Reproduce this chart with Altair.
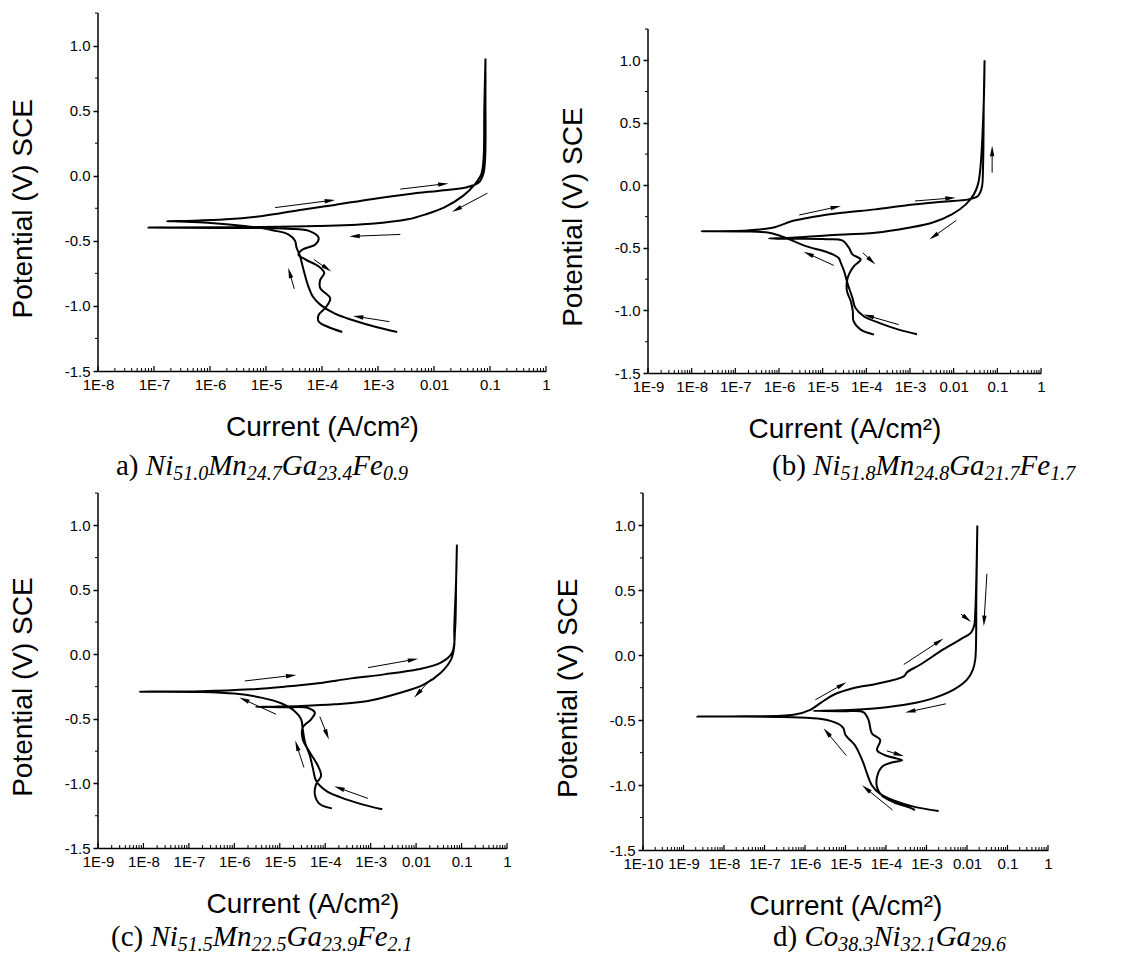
import math
import altair as alt
import pandas as pd

SANS = "Liberation Sans"
SERIF = "Liberation Serif"

Y_DOMAIN = [-1.5, 1.25]
Y_TICKS = [-1.5, -1.0, -0.5, 0.0, 0.5, 1.0]
Y_MINOR = [-1.25, -0.75, -0.25, 0.25, 0.75, 1.25]
X_TITLE = "Current (A/cm²)"
Y_TITLE = "Potential (V) SCE"

# ---------------- panel a : Ni51.0Mn24.7Ga23.4Fe0.9 ----------------
A_FWD_I = [2.2e-3, 8.9e-4, 3.6e-4, 1.7e-4, 9.3e-5, 6.9e-5, 5.6e-5, 4.6e-5, 4.0e-5, 3.5e-5,
           3.3e-5, 2.5e-5, 1.35e-5, 4.1e-6, 9.1e-7, 2.8e-7, 1.7e-7, 5.0e-7, 1.95e-6, 8.7e-6,
           3.8e-5, 1.7e-4, 7.6e-4, 3.4e-3, 1.5e-2, 3.7e-2, 6.3e-2, 7.6e-2, 8.2e-2, 8.3e-2, 8.3e-2]
A_FWD_E = [-1.20, -1.16, -1.11, -1.06, -0.99, -0.93, -0.84, -0.71, -0.61, -0.55,
           -0.50, -0.45, -0.42, -0.387, -0.361, -0.352, -0.349, -0.346, -0.335, -0.309,
           -0.265, -0.224, -0.18, -0.142, -0.111, -0.09, -0.052, 0.013, 0.142, 0.58, 0.90]
A_REV_I = [8.3e-2, 7.9e-2, 7.7e-2, 7.0e-2, 5.4e-2, 3.3e-2, 1.5e-2, 7.2e-3, 3.4e-3, 7.6e-4,
           8.1e-5, 4.1e-6, 2.0e-7, 7.9e-8, 2.8e-7, 4.1e-6, 2.5e-5, 6.0e-5, 8.7e-5, 7.6e-5,
           4.5e-5, 3.8e-5, 5.1e-5, 8.7e-5, 1.1e-4, 9.3e-5, 9.3e-5, 1.4e-4, 1.2e-4, 8.7e-5,
           8.7e-5, 1.26e-4, 2.3e-4]
A_REV_E = [0.90, 0.50, 0.14, 0.013, -0.064, -0.155, -0.245, -0.296, -0.335, -0.369,
           -0.387, -0.394, -0.397, -0.398, -0.40, -0.402, -0.407, -0.425, -0.477, -0.528,
           -0.567, -0.606, -0.644, -0.696, -0.747, -0.80, -0.863, -0.941, -1.005, -1.07,
           -1.12, -1.16, -1.20]
A_ARR_I0 = [1.45e-5, 2.5e-3, 9.0e-2, 2.5e-3, 1.6e-3, 3.2e-5, 7.2e-5]
A_ARR_E0 = [-0.245, -0.103, -0.134, -0.451, -1.121, -0.869, -0.644]
A_ARR_I1 = [1.7e-4, 1.8e-2, 2.1e-2, 3.1e-4, 3.6e-4, 2.5e-5, 1.45e-4]
A_ARR_E1 = [-0.186, -0.059, -0.278, -0.466, -1.077, -0.709, -0.735]

# ---------------- panel b : Ni51.8Mn24.8Ga21.7Fe1.7 ----------------
B_FWD_I = [1.45e-3, 5.5e-4, 1.95e-4, 8.7e-5, 5.6e-5, 4.8e-5, 4.0e-5, 3.5e-5, 3.1e-5, 2.6e-5,
           2.3e-5, 1.2e-5, 4.1e-6, 1.4e-6, 5.9e-7, 1.45e-7, 1.7e-8, 1.45e-7, 7.1e-7, 2.0e-6,
           5.8e-6, 2.8e-5, 1.6e-4, 9.3e-4, 5.5e-3, 2.2e-2, 3.6e-2, 4.4e-2, 4.7e-2, 4.9e-2, 5.1e-2]
B_FWD_E = [-1.19, -1.153, -1.099, -1.046, -0.979, -0.899, -0.819, -0.752, -0.686, -0.619,
           -0.579, -0.531, -0.486, -0.419, -0.379, -0.368, -0.366, -0.363, -0.339, -0.285,
           -0.253, -0.219, -0.192, -0.157, -0.131, -0.112, -0.085, -0.019, 0.141, 0.675, 1.0]
B_REV_I = [5.1e-2, 4.9e-2, 4.1e-2, 3.6e-2, 2.9e-2, 1.9e-2, 9.1e-3, 3.2e-3, 9.3e-4, 1.6e-4,
           1.2e-5, 2.0e-6, 5.9e-7, 2.0e-6, 1.2e-5, 2.8e-5, 4.0e-5, 4.8e-5, 7.4e-5, 5.2e-5,
           4.0e-5, 3.6e-5, 3.6e-5, 4.4e-5, 4.9e-5, 5.1e-5, 7.4e-5, 1.5e-4]
B_REV_E = [1.0, 0.675, 0.141, 0.008, -0.072, -0.152, -0.232, -0.299, -0.339, -0.379,
           -0.40, -0.419, -0.424, -0.427, -0.43, -0.44, -0.499, -0.552, -0.592, -0.646,
           -0.712, -0.766, -0.846, -0.926, -1.006, -1.086, -1.153, -1.193]
B_ARR_I0 = [2.9e-6, 1.3e-3, 7.6e-2, 1.15e-2, 1.8e-5, 8.3e-5, 5.5e-4]
B_ARR_E0 = [-0.237, -0.125, 0.101, -0.28, -0.64, -0.539, -1.113]
B_ARR_I1 = [2.6e-5, 1.1e-2, 7.6e-2, 2.8e-3, 3.7e-6, 1.6e-4, 8.7e-5]
B_ARR_E1 = [-0.165, -0.099, 0.315, -0.432, -0.531, -0.632, -1.033]

# ---------------- panel c : Ni51.5Mn22.5Ga23.9Fe2.1 ----------------
C_FWD_I = [1.8e-3, 6.2e-4, 2.2e-4, 1.05e-4, 6.3e-5, 5.4e-5, 4.6e-5, 3.6e-5, 3.2e-5, 2.95e-5,
           2.1e-5, 1.07e-5, 3.9e-6, 1.0e-6, 1.9e-7, 8.3e-9, 1.9e-7, 2.3e-6, 1.3e-5, 6.9e-5,
           3.7e-4, 2.0e-3, 1.1e-2, 3.5e-2, 6.2e-2, 7.2e-2, 7.6e-2, 7.9e-2]
C_FWD_E = [-1.20, -1.16, -1.108, -1.057, -0.979, -0.889, -0.786, -0.683, -0.58, -0.503,
           -0.438, -0.379, -0.335, -0.304, -0.291, -0.289, -0.286, -0.271, -0.25, -0.224,
           -0.186, -0.155, -0.116, -0.064, 0.013, 0.193, 0.58, 0.85]
C_REV_I = [7.9e-2, 7.6e-2, 6.9e-2, 6.9e-2, 5.9e-2, 3.5e-2, 1.5e-2, 4.7e-3, 8.7e-4, 1.6e-4,
           2.95e-5, 7.8e-6, 3.0e-6, 1.3e-5, 4.2e-5, 5.9e-5, 4.9e-5, 3.2e-5, 3.2e-5, 4.6e-5,
           6.9e-5, 8.1e-5, 6.3e-5, 5.9e-5, 7.6e-5, 1.4e-4]
C_REV_E = [0.85, 0.58, 0.193, 0.064, -0.039, -0.142, -0.232, -0.296, -0.361, -0.387,
           -0.40, -0.405, -0.407, -0.41, -0.415, -0.451, -0.503, -0.567, -0.657, -0.76,
           -0.863, -0.941, -1.005, -1.082, -1.16, -1.193]
C_ARR_I0 = [1.7e-6, 8.7e-4, 2.1e-2, 8.3e-6, 7.6e-5, 3.4e-5, 8.7e-4]
C_ARR_E0 = [-0.206, -0.103, -0.193, -0.464, -0.482, -0.876, -1.116]
C_ARR_I1 = [2.3e-5, 1.1e-2, 9.1e-3, 1.3e-6, 1.2e-4, 2.2e-5, 1.6e-4]
C_ARR_E1 = [-0.16, -0.034, -0.335, -0.335, -0.657, -0.67, -1.023]

# ---------------- panel d : Co38.3Ni32.1Ga29.6 ----------------
D_FWD_I = [2.0e-3, 4.8e-4, 1.55e-4, 7.2e-5, 4.5e-5, 3.4e-5, 2.8e-5, 2.1e-5, 1.7e-5, 1.3e-5,
           1.0e-5, 8.9e-6, 7.4e-6, 3.5e-6, 1.35e-6, 2.0e-7, 3.1e-8, 2.2e-9, 3.1e-8, 5.2e-7,
           1.35e-6, 2.4e-6, 5.1e-6, 1.6e-5, 6.0e-5, 2.75e-4, 3.3e-4, 7.1e-4, 2.6e-3, 6.9e-3,
           1.26e-2, 1.5e-2, 1.6e-2, 1.7e-2, 1.8e-2]
D_FWD_E = [-1.20, -1.166, -1.119, -1.068, -1.003, -0.912, -0.835, -0.744, -0.692, -0.653,
           -0.615, -0.563, -0.537, -0.498, -0.483, -0.475, -0.472, -0.472, -0.470, -0.459,
           -0.42, -0.369, -0.304, -0.252, -0.219, -0.162, -0.131, -0.071, 0.045, 0.123,
           0.175, 0.227, 0.33, 0.589, 1.0]
D_REV_I = [1.8e-2, 1.7e-2, 1.6e-2, 1.4e-2, 1.0e-2, 4.7e-3, 1.5e-3, 4.0e-4, 6.0e-5, 8.9e-6,
           1.6e-6, 8.9e-6, 2.8e-5, 3.7e-5, 4.5e-5, 7.2e-5, 6.0e-5, 9.5e-5, 2.5e-4, 1.55e-4,
           7.9e-5, 6.0e-5, 6.0e-5, 7.9e-5, 1.55e-4, 4.0e-4, 5.2e-4]
D_REV_E = [1.0, 0.459, -0.032, -0.11, -0.188, -0.265, -0.33, -0.374, -0.408, -0.423,
           -0.428, -0.431, -0.439, -0.498, -0.602, -0.653, -0.731, -0.77, -0.809, -0.822,
           -0.86, -0.938, -1.016, -1.081, -1.132, -1.176, -1.192]
D_ARR_I0 = [1.8e-6, 2.75e-4, 7.1e-3, 3.1e-2, 3.0e-3, 1.05e-5, 1.05e-4, 1.45e-4]
D_ARR_E0 = [-0.343, -0.071, 0.317, 0.628, -0.374, -0.773, -0.736, -1.192]
D_ARR_I1 = [1.05e-5, 2.6e-3, 1.26e-2, 2.6e-2, 3.0e-4, 2.9e-6, 2.75e-4, 2.6e-5]
D_ARR_E1 = [-0.208, 0.128, 0.258, 0.227, -0.441, -0.563, -0.778, -1.003]

# ---------------- captions (text, style) r=regular, i=italic, s=italic subscript ----------------
CAP_A = [("a) ", "r"), ("Ni", "i"), ("51.0", "s"), ("Mn", "i"), ("24.7", "s"),
         ("Ga", "i"), ("23.4", "s"), ("Fe", "i"), ("0.9", "s")]
CAP_B = [("(b) ", "r"), ("Ni", "i"), ("51.8", "s"), ("Mn", "i"), ("24.8", "s"),
         ("Ga", "i"), ("21.7", "s"), ("Fe", "i"), ("1.7", "s")]
CAP_C = [("(c) ", "r"), ("Ni", "i"), ("51.5", "s"), ("Mn", "i"), ("22.5", "s"),
         ("Ga", "i"), ("23.9", "s"), ("Fe", "i"), ("2.1", "s")]
CAP_D = [("d) ", "r"), ("Co", "i"), ("38.3", "s"), ("Ni", "i"), ("32.1", "s"),
         ("Ga", "i"), ("29.6", "s")]

CAP_MAIN = 29
CAP_SUB = 20
CAP_DROP = 5
TIMES_R = {" ": 250, "(": 333, ")": 333, "a": 444, "b": 500, "c": 444, "d": 500}
TIMES_I = {"N": 667, "i": 278, "M": 833, "n": 500, "G": 722, "a": 500, "F": 611,
           "e": 444, "C": 667, "o": 500, ".": 250}


def seg_width(text, style, size):
    table = TIMES_R if style == "r" else TIMES_I
    return sum(table.get(ch, 500) for ch in text) / 1000.0 * size


def caption_layers(segs, x0, y0):
    layers = []
    x = x0
    for text, style in segs:
        size = CAP_SUB if style == "s" else CAP_MAIN
        dy = CAP_DROP if style == "s" else 0
        layers.append(
            alt.Chart(pd.DataFrame({"t": [text]}))
            .mark_text(align="left", baseline="alphabetic", font=SERIF, fontSize=size,
                       fontStyle="normal" if style == "r" else "italic", color="black")
            .encode(x=alt.value(x), y=alt.value(y0 + dy), text="t:N")
        )
        x += seg_width(text, style, size)
    return layers


X_LABEL_EXPR = ("datum.value >= 0.99 ? '1' : datum.value >= 0.099 ? '0.1' : "
                "datum.value >= 0.0099 ? '0.01' : '1E' + round(log(datum.value) / LN10)")
Y_LABEL_EXPR = "(datum.value < 0 ? '-' : '') + format(abs(datum.value), '.1f')"


def panel(p, fwd_i, fwd_e, rev_i, rev_e, a_i0, a_e0, a_i1, a_e1, cap, cap_xy):
    W, H, lo, hi = p["W"], p["H"] + p["extra"], p["lo"], p["hi"]
    ybot = Y_DOMAIN[0]
    ytop = Y_DOMAIN[1] + p["extra"] * (Y_DOMAIN[1] - Y_DOMAIN[0]) / p["H"]
    xs = alt.Scale(type="log", domain=[10.0 ** lo, 10.0 ** hi], nice=False)
    ys = alt.Scale(domain=[ybot, ytop], nice=False, zero=False)
    decades = [10.0 ** k for k in range(lo, hi + 1)]
    minors = [m * 10.0 ** k for k in range(lo, hi) for m in range(2, 10)]
    title_y = H * (ytop + 0.25) / (ytop - ybot)

    xaxis = alt.Axis(values=decades, labelExpr=X_LABEL_EXPR, ticks=False, tickSize=0,
                     domainColor="black", domainWidth=1.5, labelFont=SANS, labelFontSize=15,
                     labelColor="black", labelPadding=6, labelFlush=False, labelOverlap=False,
                     labelBound=False, grid=False, title=X_TITLE, titleFont=SANS,
                     titleFontSize=28, titleFontWeight="normal", titleColor="black",
                     titlePadding=21)
    yaxis = alt.Axis(values=Y_TICKS, labelExpr=Y_LABEL_EXPR, tickSize=5, tickWidth=1.5,
                     tickColor="black", domain=False,
                     labelFont=SANS, labelFontSize=15, labelColor="black", labelPadding=3,
                     grid=False, title=Y_TITLE, titleFont=SANS, titleFontSize=28,
                     titleFontWeight="normal", titleColor="black", titlePadding=27,
                     titleY=title_y)

    def X(field):
        return alt.X(field, type="quantitative", scale=xs, axis=xaxis)

    def Y(field):
        return alt.Y(field, type="quantitative", scale=ys, axis=yaxis)

    curve = pd.DataFrame({"I": list(fwd_i) + list(rev_i),
                          "E": list(fwd_e) + list(rev_e)})
    curve["k"] = range(len(curve))
    line = alt.Chart(curve).mark_line(color="black", strokeWidth=2,
                                      interpolate="catmull-rom").encode(
        x=X("I"), y=Y("E"), order="k:Q")

    def to_px(i, e):
        return (W * (math.log10(i) - lo) / (hi - lo),
                H * (ytop - e) / (ytop - ybot))

    def from_px(x, y):
        return (10.0 ** (lo + x / W * (hi - lo)),
                ytop - y / H * (ytop - ybot))

    rows = []
    for i0, e0, i1, e1 in zip(a_i0, a_e0, a_i1, a_e1):
        x0, y0 = to_px(i0, e0)
        x1, y1 = to_px(i1, e1)
        dx, dy = x1 - x0, y1 - y0
        n = math.hypot(dx, dy)
        ux, uy = dx / n, dy / n
        hi_, he_ = from_px(x1 - 5 * ux, y1 - 5 * uy)
        ang = math.degrees(math.atan2(dx, -dy)) % 360
        rows.append({"I0": i0, "E0": e0, "Ih": hi_, "Eh": he_, "ang": ang})
    arr = pd.DataFrame(rows)
    shafts = alt.Chart(arr).mark_rule(color="black", strokeWidth=1).encode(
        x=X("I0"), x2="Ih", y=Y("E0"), y2="Eh")
    heads = alt.Chart(arr).mark_point(shape="M0,-1L0.42,1L-0.42,1Z", filled=True, size=110,
                                      color="black", opacity=1, strokeWidth=0).encode(
        x=X("Ih"), y=Y("Eh"), angle=alt.Angle("ang:Q", scale=None))

    # y axis line (from -1.5 to 1.25), inward x ticks, outward minor y ticks
    yline = alt.Chart(pd.DataFrame({"E": [Y_DOMAIN[0]], "E2": [Y_DOMAIN[1]]})).mark_rule(
        color="black", strokeWidth=1.5).encode(y=Y("E"), y2="E2", x=alt.value(0))
    xmaj = alt.Chart(pd.DataFrame({"I": decades})).mark_rule(color="black", strokeWidth=1.2).encode(
        x=X("I"), y=alt.value(H), y2=alt.value(H - 5))
    xmin = alt.Chart(pd.DataFrame({"I": minors})).mark_rule(color="black", strokeWidth=1).encode(
        x=X("I"), y=alt.value(H), y2=alt.value(H - 3))
    ymin = alt.Chart(pd.DataFrame({"E": Y_MINOR})).mark_rule(color="black", strokeWidth=1).encode(
        y=Y("E"), x=alt.value(0), x2=alt.value(-3))

    layers = [line, shafts, heads, yline, xmaj, xmin, ymin]
    layers += caption_layers(cap, cap_xy[0], cap_xy[1])
    return alt.layer(*layers).properties(width=W, height=H)


PA = {"W": 448, "H": 358, "lo": -8, "hi": 0, "extra": 0}
PB = {"W": 393, "H": 344, "lo": -9, "hi": 0, "extra": 16}
PC = {"W": 409, "H": 355, "lo": -9, "hi": 0, "extra": 0}
PD = {"W": 405, "H": 357, "lo": -10, "hi": 0, "extra": 0}

pa = panel(PA, A_FWD_I, A_FWD_E, A_REV_I, A_REV_E, A_ARR_I0, A_ARR_E0, A_ARR_I1, A_ARR_E1,
           CAP_A, (18, 462))
pb = panel(PB, B_FWD_I, B_FWD_E, B_REV_I, B_REV_E, B_ARR_I0, B_ARR_E0, B_ARR_I1, B_ARR_E1,
           CAP_B, (124, 462))
pc = panel(PC, C_FWD_I, C_FWD_E, C_REV_I, C_REV_E, C_ARR_I0, C_ARR_E0, C_ARR_I1, C_ARR_E1,
           CAP_C, (13, 453))
pd_ = panel(PD, D_FWD_I, D_FWD_E, D_REV_I, D_REV_E, D_ARR_I0, D_ARR_E0, D_ARR_I1, D_ARR_E1,
            CAP_D, (130, 453))

row1 = alt.hconcat(pa, pb, spacing=8)
row2 = alt.hconcat(pc, pd_, spacing=42)
chart = (
    alt.vconcat(row1, row2, spacing=8)
    .properties(padding={"left": 1, "top": 4, "right": 0, "bottom": 0})
    .configure(background="white")
    .configure_view(stroke=None)
)
chart.save("out.html", embed_options={"renderer": "svg", "actions": False})
